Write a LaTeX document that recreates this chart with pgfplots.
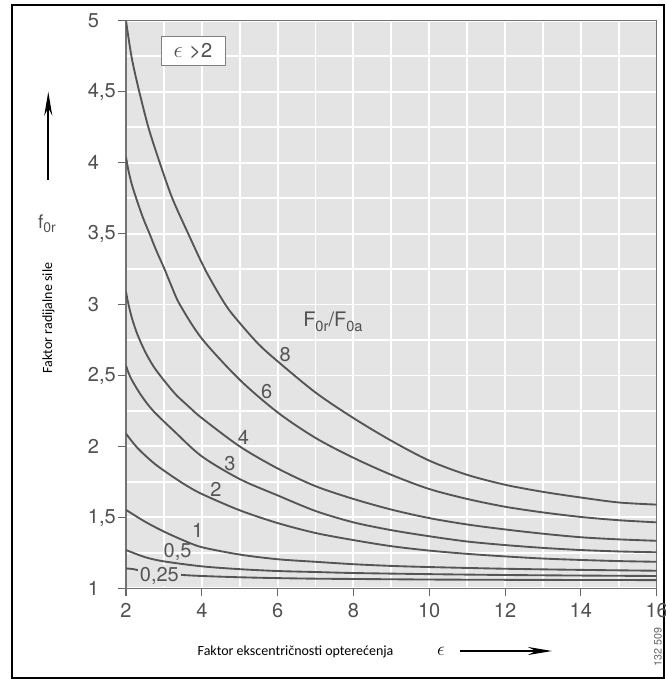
\documentclass[border=0pt]{standalone}
\usepackage{pgfplots}
\pgfplotsset{compat=1.18}
\usepackage{fontspec}
\usetikzlibrary{arrows.meta}
\setmainfont{TeX Gyre Heros}
\newfontfamily\labfont{Carlito}
\definecolor{plotbg}{RGB}{228,228,228}
\definecolor{curve}{RGB}{85,85,85}
\definecolor{ticktext}{RGB}{80,80,80}
\newcommand\tickfont{\fontsize{15}{16}\selectfont}
\newcommand\labsize{\labfont\fontsize{10.5}{12}\selectfont}

\begin{document}
\begin{tikzpicture}
\useasboundingbox (0,0) rectangle (498.75pt,509.25pt);
\draw[line width=1.5pt] (8.8pt,0.75pt) rectangle (498pt,505.5pt);

\begin{axis}[
  at={(94.5pt,68pt)}, anchor=south west,
  width=398pt, height=425.7pt, scale only axis,
  xmin=2, xmax=16, ymin=1, ymax=5,
  xtick={2,4,...,16}, ytick={1,1.5,...,5},
  minor x tick num=1, minor y tick num=1,
  grid=both, grid style={white, line width=1.4pt},
  axis background/.style={fill=plotbg},
  axis line style={black!55, line width=0.8pt},
  tick align=outside, xtick pos=bottom, ytick pos=left,
  major tick length=6pt, minor tick length=0pt,
  tick style={black!60, line width=0.8pt},
  tick label style={font=\tickfont, text=ticktext},
  xticklabel style={yshift=-2pt},
  yticklabel style={text width=19pt, align=left},
  /pgf/number format/use comma,
  /pgf/number format/assume math mode=true,
  crv/.style={curve, solid, line width=1.4pt, smooth, mark=none},
]
% F0r/F0a = 8
\addplot[crv] coordinates {(2,5.0) (2.15,4.74) (2.35,4.5) (2.6,4.24) (2.89,4.0) (3.22,3.75)
  (3.64,3.5) (4.1,3.24) (4.62,3.0) (5,2.87) (5.5,2.72) (6,2.6) (7,2.38) (8,2.2) (9,2.04)
  (10,1.9) (11,1.8) (12,1.73) (13,1.68) (14,1.64) (15,1.605) (16,1.59)};
% 6
\addplot[crv] coordinates {(2,4.04) (2.06,3.95) (2.15,3.85) (2.28,3.74) (2.45,3.61) (2.62,3.5)
  (2.8,3.38) (3.0,3.26) (3.2,3.13) (3.42,3.0) (4,2.76) (5,2.47) (6,2.24) (7,2.06) (8,1.92)
  (9,1.8) (10,1.7) (11,1.63) (12,1.575) (13,1.535) (14,1.503) (15,1.48) (16,1.465)};
% 4
\addplot[crv] coordinates {(2,3.09) (2.05,3.02) (2.15,2.91) (2.3,2.79) (2.5,2.67) (2.7,2.575)
  (2.9,2.5) (3.3,2.37) (3.7,2.27) (4,2.2) (5,2.0) (6,1.845) (7,1.72) (8,1.63) (9,1.555)
  (10,1.495) (11,1.45) (12,1.415) (13,1.385) (14,1.36) (15,1.345) (16,1.335)};
% 3
\addplot[crv] coordinates {(2,2.57) (2.05,2.53) (2.15,2.47) (2.4,2.36) (2.72,2.25) (3.3,2.1)
  (4,1.93) (5,1.77) (6,1.655) (7,1.545) (8,1.465) (9,1.41) (10,1.367) (11,1.33)
  (12,1.305) (13,1.285) (14,1.27) (15,1.26) (16,1.254)};
% 2
\addplot[crv] coordinates {(2,2.09) (2.3,1.99) (2.7,1.89) (3,1.83) (3.5,1.74) (4,1.665)
  (5,1.55) (6,1.46) (7,1.39) (8,1.34) (9,1.297) (10,1.266) (11,1.243) (12,1.225)
  (13,1.21) (14,1.2) (15,1.192) (16,1.187)};
% 1
\addplot[crv] coordinates {(2,1.553) (2.5,1.47) (3,1.4) (3.5,1.34) (4,1.29) (5,1.238)
  (6,1.205) (7,1.187) (8,1.17) (9,1.158) (10,1.15) (12,1.138) (14,1.13) (16,1.124)};
% 0,5
\addplot[crv] coordinates {(2,1.27) (2.5,1.22) (3,1.19) (4,1.155) (5,1.135) (6,1.122)
  (7,1.115) (8,1.108) (10,1.1) (12,1.094) (14,1.09) (16,1.087)};
% 0,25
\addplot[crv] coordinates {(2,1.14) (2.2,1.135) (2.5,1.118) (3,1.104) (3.5,1.094) (4,1.087)
  (5,1.078) (6,1.072) (7,1.068) (8,1.066) (10,1.062) (12,1.06) (16,1.058)};

\begin{scope}[every node/.style={font=\tickfont, text=curve, inner sep=0.5pt}]
\node at (axis cs:6.2,2.65) {8};
\node at (axis cs:5.71,2.385) {6};
\node at (axis cs:5.1,2.065) {4};
\node at (axis cs:4.74,1.88) {3};
\node at (axis cs:4.37,1.70) {2};
\node at (axis cs:3.89,1.41) {1};
\node at (axis cs:3.36,1.26) {0,5};
\node[fill=plotbg, inner sep=1.5pt] at (axis cs:2.88,1.09) {0,25};
\end{scope}
\end{axis}

% box in the upper left corner
\draw[black!50, fill=white, line width=0.75pt] (120.75pt,460pt) rectangle (168.75pt,481.7pt);
\node[font=\tickfont, text=ticktext] at (144.75pt,470.9pt) {{\fontsize{18}{18}\selectfont$\epsilon$}\,\,>2};

% curve family label
\node[anchor=base west, font=\tickfont, text=ticktext, inner sep=0pt] at (227.25pt,264pt)
  {F\raisebox{-0.4ex}{\fontsize{11}{11}\selectfont 0r}/F\raisebox{-0.4ex}{\fontsize{11}{11}\selectfont 0a}};

% y axis label
\draw[line width=1.2pt, -{Stealth[length=18pt,width=6pt]}] (36.2pt,374.25pt) -- (36.2pt,440.5pt);
\node[font=\fontsize{14}{14}\selectfont, text=ticktext] at (35.25pt,341.25pt)
  {f\raisebox{-0.45ex}{\fontsize{10.5}{10.5}\selectfont 0r}};
\node[rotate=90, font=\labsize] at (36.4pt,270.75pt) {Faktor radijalne sile};

% x axis label
\node[anchor=west, font=\labsize] at (144.75pt,20.25pt) {Faktor ekscentričnosti opterećenja};
\node[font=\fontsize{14}{14}\selectfont] at (330.75pt,21pt) {$\epsilon$};
\draw[line width=1.1pt, -{Stealth[length=18pt,width=6pt]}] (345pt,21pt) -- (414pt,21pt);

\node[rotate=90, font=\fontsize{8}{9}\selectfont, text=black!60] at (493.5pt,24pt) {132 509};
\end{tikzpicture}
\end{document}
